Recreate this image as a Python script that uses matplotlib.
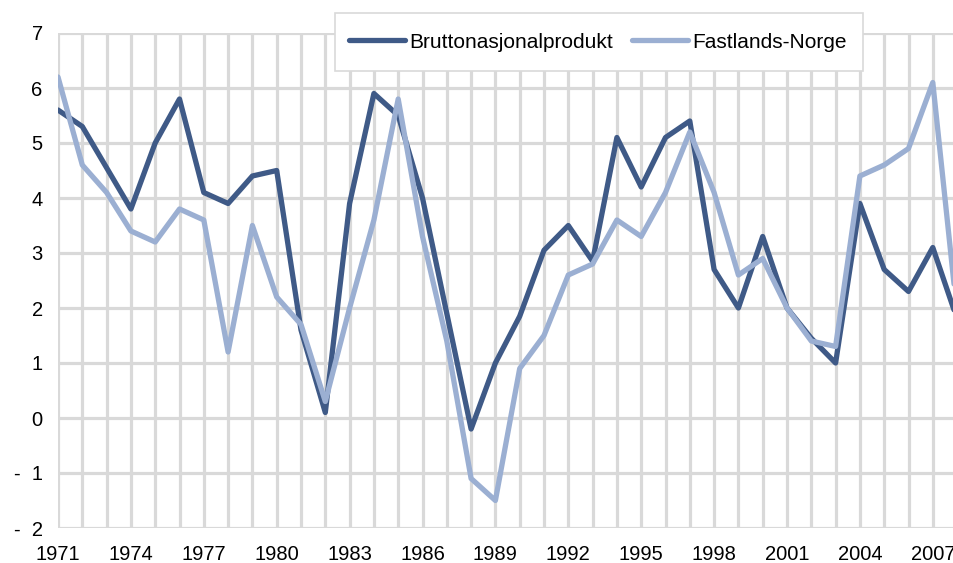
import matplotlib.pyplot as plt
from matplotlib.patches import Rectangle

years = list(range(1971, 2009))
bnp = [5.6, 5.3, 4.55, 3.8, 5.0, 5.8, 4.1, 3.9, 4.4, 4.5,
       1.6, 0.1, 3.9, 5.9, 5.5, 4.0, 1.9, -0.2, 1.0, 1.85,
       3.05, 3.5, 2.85, 5.1, 4.2, 5.1, 5.4, 2.7, 2.0, 3.3,
       2.0, 1.45, 1.0, 3.9, 2.7, 2.3, 3.1, 1.8]
fastland = [6.2, 4.6, 4.1, 3.4, 3.2, 3.8, 3.6, 1.2, 3.5, 2.2,
            1.7, 0.3, 2.0, 3.6, 5.8, 3.3, 1.4, -1.1, -1.5, 0.9,
            1.5, 2.6, 2.8, 3.6, 3.3, 4.1, 5.2, 4.1, 2.6, 2.9,
            2.0, 1.4, 1.3, 4.4, 4.6, 4.9, 6.1, 1.9]
xticks = list(range(1971, 2008, 3))
yticks = list(range(-2, 8))
ylabels = ['-  2', '-  1', '0', '1', '2', '3', '4', '5', '6', '7']

plt.rcParams['font.family'] = ['Liberation Sans', 'DejaVu Sans']

W, H = 954, 563
fig = plt.figure(figsize=(W / 100, H / 100), dpi=100)
ax = fig.add_axes([58 / W, 1 - 528 / H, (W - 58) / W, 495 / H])

ax.plot(years, bnp, color='#3F5A87', lw=3.8, solid_capstyle='round',
        solid_joinstyle='round', label='Bruttonasjonalprodukt', zorder=3)
ax.plot(years, fastland, color='#9BAFD2', lw=3.8, solid_capstyle='round',
        solid_joinstyle='round', label='Fastlands-Norge', zorder=3)

ax.set_xlim(1971, 1971 + (W - 58) / 24.3)
ax.set_ylim(-2, 7)
ax.set_xticks(range(1971, 2008), minor=True)
ax.set_xticks(xticks)
ax.set_yticks(yticks)
ax.set_yticklabels(ylabels)
ax.grid(True, which='both', axis='x', color='#D9D9D9', lw=2.3, zorder=0)
ax.grid(True, which='major', axis='y', color='#D9D9D9', lw=2.3, zorder=0)
ax.tick_params(which='both', length=0, labelsize=14.5)
ax.tick_params(axis='x', pad=12)
ax.tick_params(axis='y', pad=11)
for s in ax.spines.values():
    s.set_visible(False)
ax.set_axisbelow(True)

# legend box
fig.patches.append(Rectangle((335 / W, 1 - 71 / H), 528 / W, 58 / H,
                             transform=fig.transFigure, facecolor='white',
                             edgecolor='#D9D9D9', lw=1.2, zorder=5))
leg = fig.legend(loc='center', bbox_to_anchor=(598 / W, 1 - 42 / H), ncol=2,
                 frameon=False, fontsize=15, handlelength=2.7, handletextpad=0.2,
                 columnspacing=0.9)
leg.set_zorder(6)

fig.savefig('out.png', dpi=100)
